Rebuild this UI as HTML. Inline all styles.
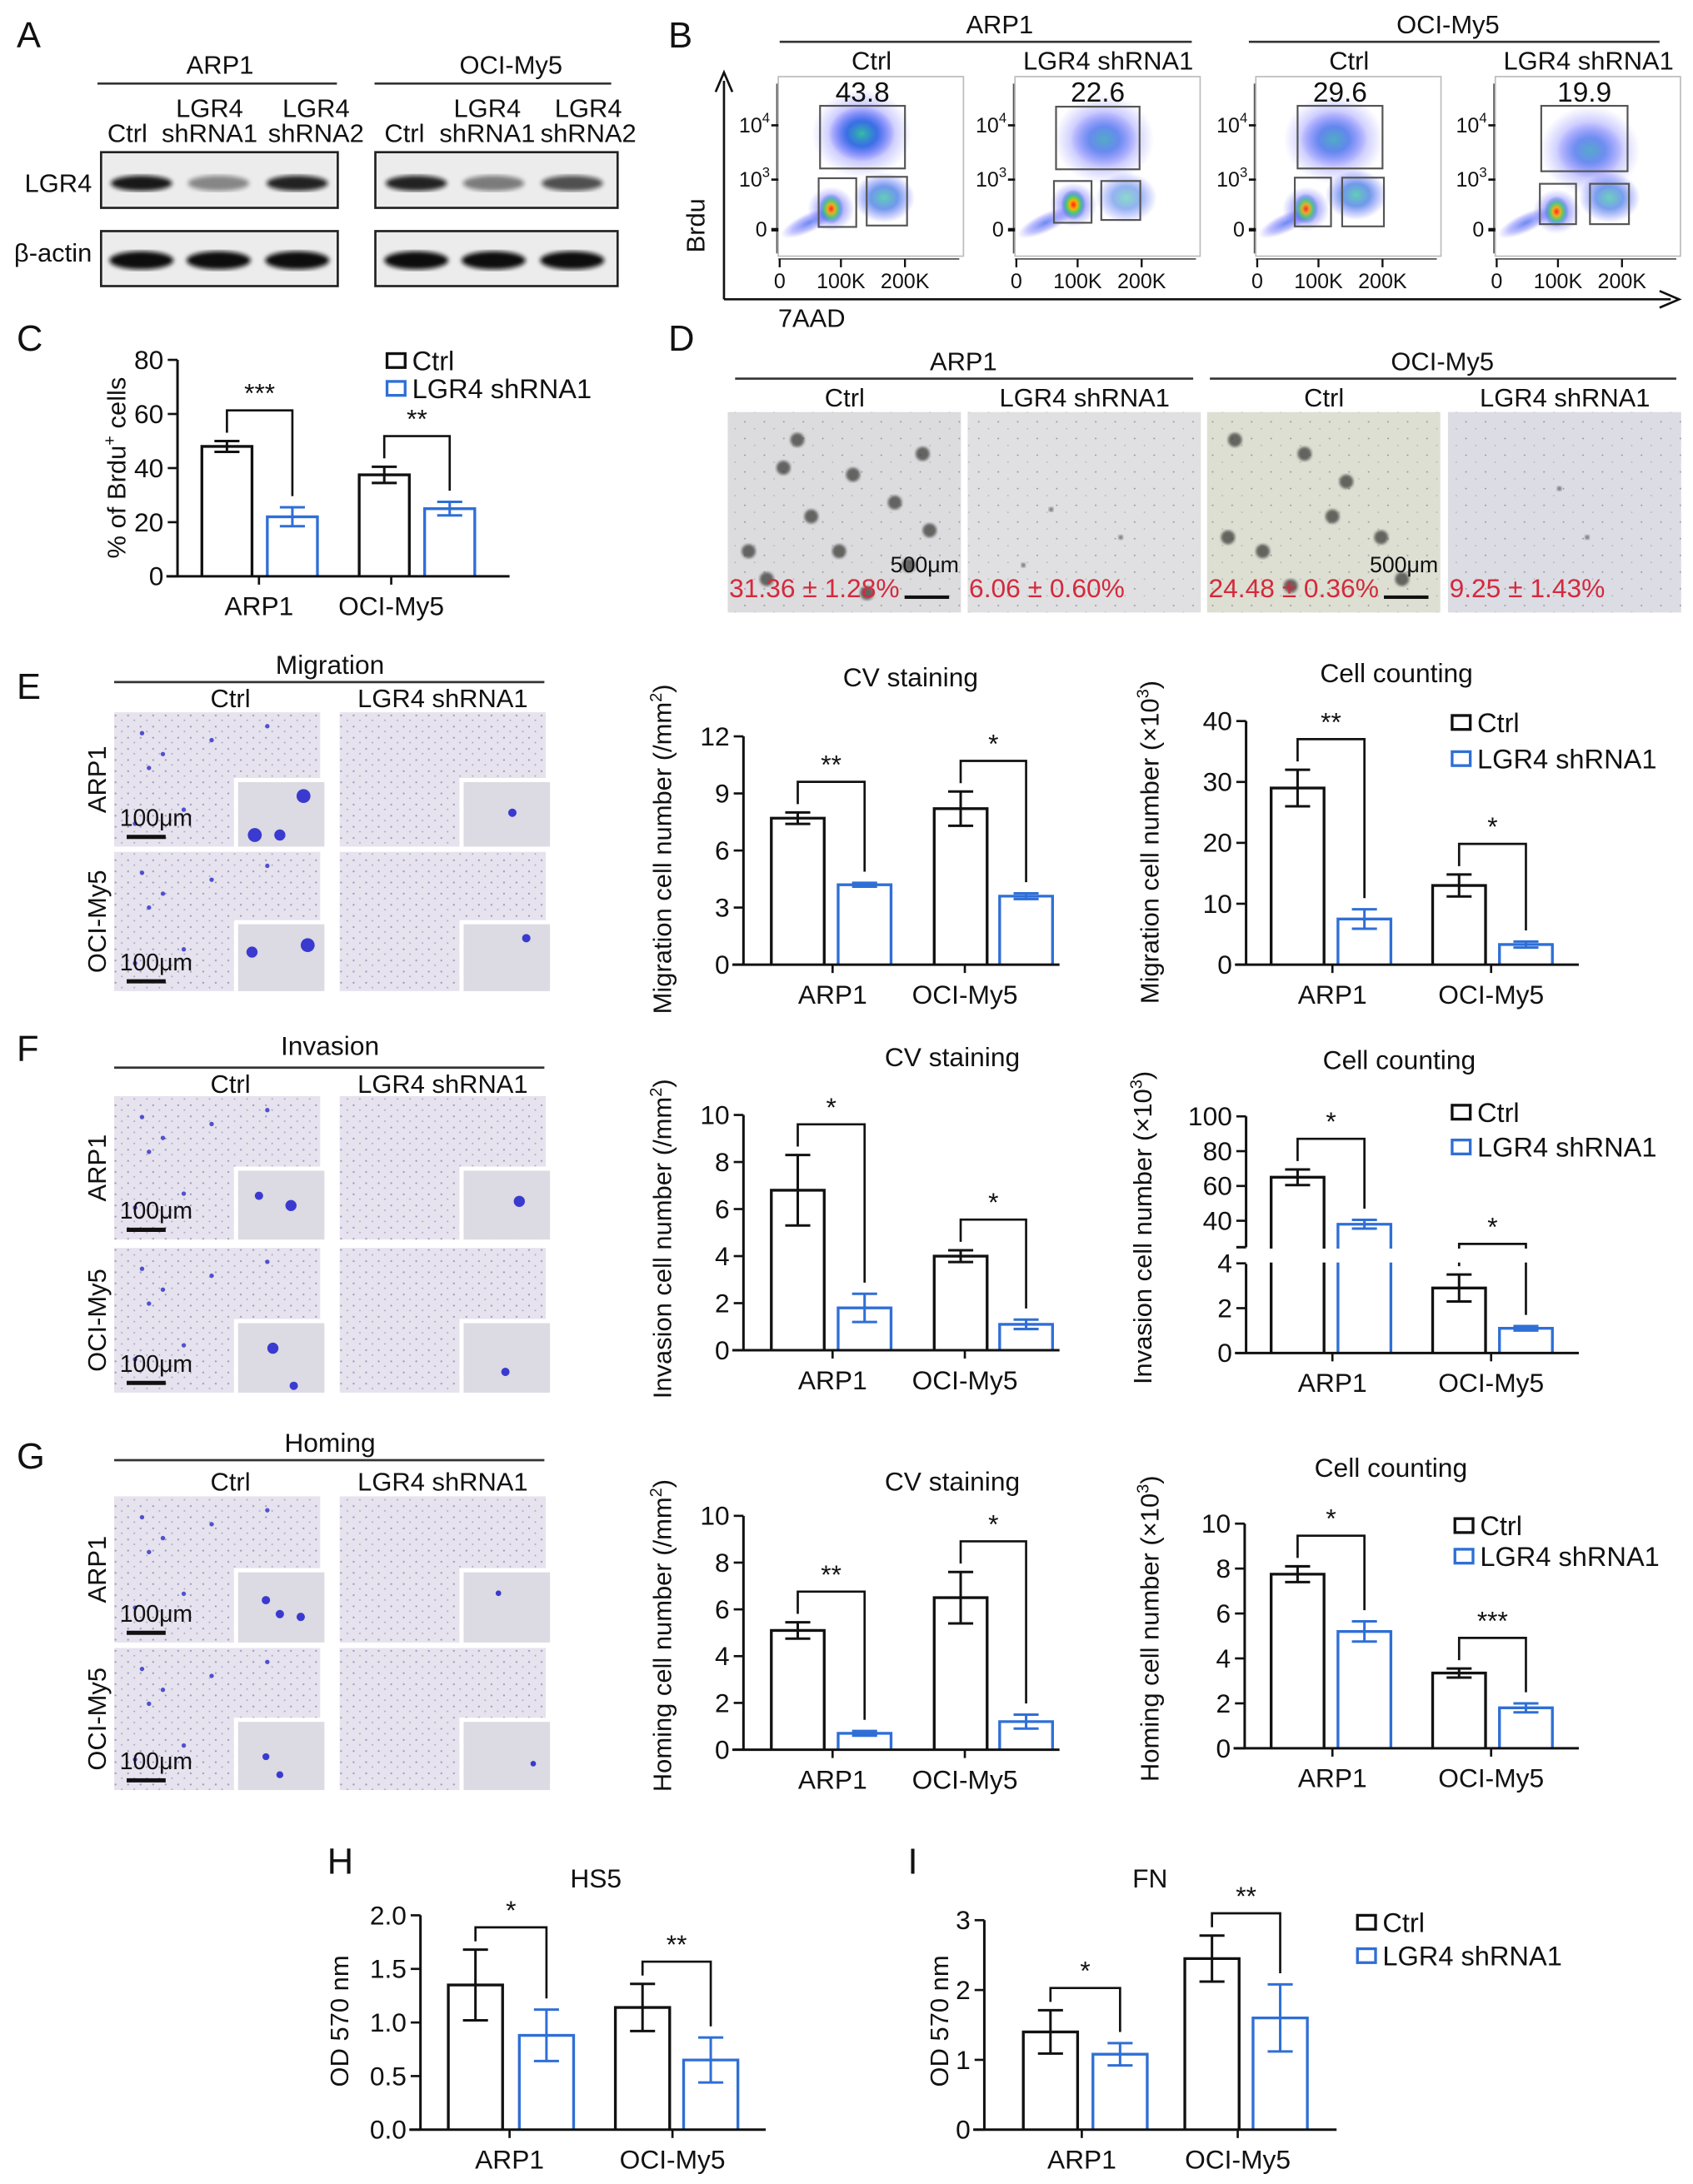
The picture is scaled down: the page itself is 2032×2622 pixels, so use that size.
<!DOCTYPE html>
<html><head><meta charset="utf-8"><title>LGR4 figure</title>
<style>
html,body{margin:0;padding:0;background:#fff;}
svg{display:block;font-family:"Liberation Sans",Arial,sans-serif;}
</style></head>
<body>
<svg id="fig" xmlns="http://www.w3.org/2000/svg" width="2032" height="2622" viewBox="0 0 1216 1569">
<defs>
  <radialGradient id="gCloud" cx="50%" cy="50%" r="50%">
    <stop offset="0" stop-color="#30c0a0" stop-opacity="0.95"/>
    <stop offset="0.45" stop-color="#2060e0" stop-opacity="0.8"/>
    <stop offset="1" stop-color="#3a3aff" stop-opacity="0"/>
  </radialGradient>
  <radialGradient id="gSparse" cx="50%" cy="50%" r="50%">
    <stop offset="0" stop-color="#2a5ae8" stop-opacity="0.7"/>
    <stop offset="0.6" stop-color="#4a4aff" stop-opacity="0.35"/>
    <stop offset="1" stop-color="#6060ff" stop-opacity="0"/>
  </radialGradient>
  <radialGradient id="gHot" cx="50%" cy="50%" r="50%">
    <stop offset="0" stop-color="#ff2020"/>
    <stop offset="0.3" stop-color="#ffb000"/>
    <stop offset="0.55" stop-color="#40d060" stop-opacity="0.9"/>
    <stop offset="1" stop-color="#2040ff" stop-opacity="0"/>
  </radialGradient>
  <pattern id="speck" width="9" height="8" patternUnits="userSpaceOnUse">
    <circle cx="2" cy="2" r="0.7" fill="#8a88b0"/><circle cx="6.5" cy="5.5" r="0.6" fill="#9a98c0"/>
  </pattern>
  <pattern id="speckD" width="14" height="12" patternUnits="userSpaceOnUse">
    <circle cx="3" cy="3" r="0.6" fill="#999"/><circle cx="10" cy="8" r="0.5" fill="#aaa"/>
  </pattern>
  <filter id="blur1"><feGaussianBlur stdDeviation="1.6"/></filter>
  <filter id="blur2"><feGaussianBlur stdDeviation="1"/></filter>
</defs>
</svg>
<script>
// ---------------- chart data ----------------
const cats = ['ARP1', 'OCI-My5'];
const cCtrl = [48, 37.5];   const cCtrlErr = [2, 3];
const cSh = [22, 25];       const cShErr = [3.5, 2.5];
const cStars = ['***', '**']; const cTicks = [0, 20, 40, 60, 80];

const eCvCtrl = [7.7, 8.2];  const eCvCtrlErr = [0.3, 0.9];
const eCvSh = [4.2, 3.6];    const eCvShErr = [0.1, 0.15];
const eCvStars = ['**', '*']; const eCvTicks = [0, 3, 6, 9, 12];

const eCcCtrl = [29, 13];    const eCcCtrlErr = [3, 1.8];
const eCcSh = [7.5, 3.3];    const eCcShErr = [1.6, 0.5];
const eCcStars = ['**', '*']; const eCcTicks = [0, 10, 20, 30, 40];

const fCvCtrl = [6.8, 4.0];  const fCvCtrlErr = [1.5, 0.25];
const fCvSh = [1.8, 1.1];    const fCvShErr = [0.6, 0.2];
const fCvStars = ['*', '*']; const fCvTicks = [0, 2, 4, 6, 8, 10];

const fCcCtrl = [65, 2.9];   const fCcCtrlErr = [4.5, 0.6];
const fCcSh = [38, 1.1];     const fCcShErr = [2.5, 0.1];
const fCcStars = ['*', '*']; const fCcTicks = [0, 2, 4, 40, 60, 80, 100];

const gCvCtrl = [5.1, 6.5];  const gCvCtrlErr = [0.35, 1.1];
const gCvSh = [0.7, 1.2];    const gCvShErr = [0.1, 0.3];
const gCvStars = ['**', '*']; const gCvTicks = [0, 2, 4, 6, 8, 10];

const gCcCtrl = [7.75, 3.35]; const gCcCtrlErr = [0.35, 0.2];
const gCcSh = [5.2, 1.8];     const gCcShErr = [0.45, 0.2];
const gCcStars = ['*', '***']; const gCcTicks = [0, 2, 4, 6, 8, 10];

const hCtrl = [1.35, 1.14];  const hCtrlErr = [0.33, 0.22];
const hSh = [0.88, 0.65];    const hShErr = [0.24, 0.21];
const hStars = ['*', '**'];  const hTicks = [0, 0.5, 1.0, 1.5, 2.0];

const iCtrl = [1.4, 2.45];   const iCtrlErr = [0.31, 0.33];
const iSh = [1.08, 1.6];     const iShErr = [0.16, 0.48];
const iStars = ['*', '**'];  const iTicks = [0, 1, 2, 3];

const flowPct = ['43.8', '22.6', '29.6', '19.9'];
const colonyPct = ['31.36 ± 1.28%', '6.06 ± 0.60%', '24.48 ± 0.36%', '9.25 ± 1.43%'];

// ---------------- helpers ----------------
const NS = 'http://www.w3.org/2000/svg';
const svg = document.getElementById('fig');
const BLUE = '#2f6fd6';
function mk(tag, attrs, name, parent) {
  const e = document.createElementNS(NS, tag);
  for (const k in attrs) e.setAttribute(k, attrs[k]);
  
  
  (parent || svg).appendChild(e);
  return e;
}
function txt(x, y, s, size, anchor, name, parent, extra) {
  const a = {x: x, y: y, 'font-size': size, 'text-anchor': anchor || 'middle', fill: '#111'};
  if (extra) for (const k in extra) a[k] = extra[k];
  const t = mk('text', a, name, parent);
  t.textContent = s;
  return t;
}
function line(x1, y1, x2, y2, w, name, parent, col) {
  return mk('line', {x1: x1, y1: y1, x2: x2, y2: y2, stroke: col || '#111', 'stroke-width': w || 1.6}, name, parent);
}
function rotText(x, y, html, size, name, parent) {
  const t = mk('text', {x: 0, y: 0, 'font-size': size, 'text-anchor': 'middle', fill: '#111',
    transform: 'translate(' + x + ',' + y + ') rotate(-90)'}, name, parent);
  t.innerHTML = html;
  return t;
}

// ---------------- bar chart ----------------
function barChart(c) {
  const g = mk('g', {}, c.name);
  const y = c.yfn || (v => c.y0 - v / c.vmax * (c.y0 - c.yTop));
  if (c.title) txt(c.titleX, c.titleY, c.title, 19, 'middle', 'chart-title', g);
  rotText(c.ytx, c.yty, c.ytitle, 18.5, 'y-axis-title', g);
  for (let i = 0; i < cats.length; i++) {
    const xs = [c.bx[2 * i], c.bx[2 * i + 1]];
    const vals = [c.ctrl[i], c.sh[i]];
    const errs = [c.ctrlErr[i], c.shErr[i]];
    const cols = ['#111', BLUE];
    for (let k = 0; k < 2; k++) {
      const x = xs[k], v = vals[k], col = cols[k];
      mk('path', {d: 'M' + x + ',' + c.y0 + 'V' + y(v) + 'H' + (x + c.bw) + 'V' + c.y0,
        fill: 'none', stroke: col, 'stroke-width': 2}, (k ? 'bar-shrna1-' : 'bar-ctrl-') + cats[i].toLowerCase(), g);
      const cx = x + c.bw / 2;
      line(cx, y(v + errs[k]), cx, y(v - errs[k]), 1.8, 'error-bar', g, col);
      line(cx - 9, y(v + errs[k]), cx + 9, y(v + errs[k]), 1.8, 'error-cap-top', g, col);
      line(cx - 9, y(v - errs[k]), cx + 9, y(v - errs[k]), 1.8, 'error-cap-bottom', g, col);
    }
    const lx = xs[0] + c.bw / 2, rx = xs[1] + c.bw / 2;
    const ly = y(vals[0] + errs[0]) - 6, ry = y(vals[1] + errs[1]) - 8;
    const by = Math.min(ly, ry) - (c.brGap || 16);
    mk('path', {d: 'M' + lx + ',' + ly + 'V' + by + 'H' + rx + 'V' + ry, fill: 'none', stroke: '#111', 'stroke-width': 1.6}, 'significance-bracket', g);
    txt((lx + rx) / 2, by - 6, c.stars[i], 19, 'middle', 'significance-stars', g);
    txt(c.gx[i], c.y0 + 28, cats[i], 19, 'middle', 'x-category-label', g);
    line(c.gx[i], c.y0, c.gx[i], c.y0 + 6, 1.6, 'x-tick', g);
  }
  if (c.broken) {
    line(c.ax, c.y0, c.ax, c.brLow, 1.8, 'y-axis-lower', g);
    line(c.ax, c.brHigh, c.ax, c.yTop, 1.8, 'y-axis-upper', g);
    line(c.ax - 7, c.brHigh, c.ax, c.brHigh, 1.8, 'axis-break-tick', g);
    mk('rect', {x: c.ax + 4, y: c.brHigh + 1, width: c.baseEnd - c.ax, height: c.brLow - c.brHigh - 2, fill: '#fff'}, 'axis-break-gap', g);
  } else {
    line(c.ax, c.y0, c.ax, c.yTop, 1.8, 'y-axis', g);
  }
  line(c.ax - 8, c.y0, c.baseEnd, c.y0, 1.8, 'x-axis', g);
  for (let t = 0; t < c.ticks.length; t++) {
    const v = c.ticks[t];
    line(c.ax - 7, y(v), c.ax, y(v), 1.6, 'y-tick', g);
    txt(c.ax - 10, y(v) + 6.5, c.fmt ? c.fmt(v) : String(v), 19, 'end', 'y-tick-label', g);
  }
  if (c.legX) legend(c.legX, c.legY, c.legDy || 25);
  return g;
}
function legend(x, y, dy) {
  const g = mk('g', {}, 'legend');
  mk('rect', {x: x, y: y - 5, width: 13, height: 10, fill: 'none', stroke: '#111', 'stroke-width': 2}, 'legend-swatch-ctrl', g);
  txt(x + 18, y + 7, 'Ctrl', 19.5, 'start', 'legend-label-ctrl', g);
  mk('rect', {x: x, y: y + dy - 5, width: 13, height: 10, fill: 'none', stroke: BLUE, 'stroke-width': 2}, 'legend-swatch-shrna1', g);
  txt(x + 18, y + dy + 7, 'LGR4 shRNA1', 19.5, 'start', 'legend-label-shrna1', g);
}

// ---------------- panel letters ----------------
[['A', 12, 34], ['B', 480, 34], ['C', 12, 252], ['D', 480, 252], ['E', 12, 502], ['F', 12, 762], ['G', 12, 1055], ['H', 235, 1346], ['I', 652, 1346]]
  .forEach(p => { txt(p[1], p[2], p[0], 26, 'start', 'panel-letter-' + p[0].toLowerCase()); });

// ---------------- Panel A: western blot ----------------
(function () {
  const g = mk('g', {}, 'western-blot');
  txt(158, 53, 'ARP1', 18.5, 'middle', 'blot-header-arp1', g);
  txt(367, 53, 'OCI-My5', 18.5, 'middle', 'blot-header-oci-my5', g);
  line(70, 60, 242, 60, 1.6, 'header-line', g, '#333');
  line(269, 60, 439, 60, 1.6, 'header-line', g, '#333');
  const lanes = [[91.5, 'Ctrl', ''], [150.5, 'shRNA1', 'LGR4'], [227, 'shRNA2', 'LGR4'], [290.5, 'Ctrl', ''], [350, 'shRNA1', 'LGR4'], [422.6, 'shRNA2', 'LGR4']];
  lanes.forEach(l => {
    if (l[2]) txt(l[0], 84, l[2], 18.5, 'middle', 'lane-label', g);
    txt(l[0], 102, l[1], 18.5, 'middle', 'lane-label', g);
  });
  txt(66, 138, 'LGR4', 18.5, 'end', 'row-label-lgr4', g);
  txt(66, 188, 'β-actin', 18.5, 'end', 'row-label-beta-actin', g);
  const boxes = [[72.6, 109.3, 170, 40], [269.6, 109.3, 174, 40], [72.6, 166, 170, 39.5], [269.6, 166, 174, 39.5]];
  boxes.forEach(b => mk('rect', {x: b[0], y: b[1], width: b[2], height: b[3], fill: '#ececec', stroke: '#222', 'stroke-width': 1.6}, 'blot-frame', g));
  const lgr = [[101.6, 0.95], [157, 0.45], [213.5, 0.9], [299, 0.9], [354.5, 0.5], [411, 0.7]];
  lgr.forEach(b => mk('ellipse', {cx: b[0], cy: 131.6, rx: 22, ry: 5.5, fill: '#111', opacity: b[1], filter: 'url(#blur1)'}, 'lgr4-band', g));
  [101.6, 157, 213.5, 299, 354.5, 411].forEach(x => mk('ellipse', {cx: x, cy: 187, rx: 23, ry: 6.5, fill: '#0c0c0c', filter: 'url(#blur1)'}, 'actin-band', g));
})();

// ---------------- Panel B: flow cytometry ----------------
(function () {
  const g = mk('g', {}, 'flow-cytometry');
  txt(718, 24, 'ARP1', 18.5, 'middle', 'flow-header-arp1', g);
  txt(1040, 24, 'OCI-My5', 18.5, 'middle', 'flow-header-oci-my5', g);
  line(560, 30, 856, 30, 1.6, 'header-line', g, '#333');
  line(897, 30, 1192, 30, 1.6, 'header-line', g, '#333');
  line(520, 215, 520, 58, 1.6, 'brdu-axis', g);
  mk('path', {d: 'M514,66 L520,52 L526,66', fill: 'none', stroke: '#111', 'stroke-width': 1.6}, 'brdu-arrow', g);
  line(520, 215, 1200, 215, 1.6, '7aad-axis', g);
  mk('path', {d: 'M1192,209 L1206,215 L1192,221', fill: 'none', stroke: '#111', 'stroke-width': 1.6}, '7aad-arrow', g);
  rotText(506, 162, 'Brdu', 18.5, 'brdu-axis-title', g);
  txt(583, 235, '7AAD', 18.5, 'middle', '7aad-axis-title', g);
  const px = [559, 729, 902, 1074];
  const heads = ['Ctrl', 'LGR4 shRNA1', 'Ctrl', 'LGR4 shRNA1'];
  const hot = [[38, 150, 0.9], [42, 147, 1], [36, 150, 0.85], [44, 152, 0.9]];
  const up = [[60, 96, 1], [64, 100, 0.55], [56, 100, 0.6], [68, 108, 0.5]];
  const lr = [[76, 142, 0.8], [80, 142, 0.6], [72, 140, 0.8], [82, 142, 0.75]];
  const gates = [
    [[30, 76, 61, 45], [29, 128, 27, 35], [63.5, 127, 29, 35]],
    [[29.5, 76.6, 60, 45], [28, 130, 27, 30], [62, 130, 28, 28]],
    [[30, 76, 61, 45], [28, 127.6, 26, 35], [62, 127.6, 30, 35]],
    [[33, 76, 62, 47], [32, 132, 26, 29], [68, 132, 28, 29]]];
  for (let i = 0; i < 4; i++) {
    const x0 = px[i];
    const pg = mk('g', {}, 'flow-plot-' + (i + 1), g);
    txt(x0 + 67, 50, heads[i], 18.5, 'middle', 'flow-plot-title', pg);
    mk('rect', {x: x0, y: 55, width: 133, height: 129, fill: '#fff', stroke: '#bbb', 'stroke-width': 1}, 'plot-frame', pg);
    mk('ellipse', {cx: x0 + up[i][0], cy: up[i][1], rx: 36, ry: 32, fill: 'url(#gSparse)', opacity: 0.9}, 'population-s-phase', pg);
    mk('ellipse', {cx: x0 + up[i][0], cy: up[i][1], rx: 24, ry: 20, fill: 'url(#gCloud)', opacity: up[i][2]}, 'population-s-phase-core', pg);
    mk('ellipse', {cx: x0 + 22, cy: 160, rx: 22, ry: 7, fill: 'url(#gSparse)', transform: 'rotate(-25 ' + (x0 + 22) + ' 160)'}, 'population-tail', pg);
    mk('ellipse', {cx: x0 + lr[i][0], cy: lr[i][1], rx: 22, ry: 18, fill: 'url(#gCloud)', opacity: lr[i][2]}, 'population-g2', pg);
    mk('ellipse', {cx: x0 + hot[i][0], cy: hot[i][1], rx: 17, ry: 16, fill: 'url(#gSparse)'}, 'population-g1-halo', pg);
    mk('ellipse', {cx: x0 + hot[i][0], cy: hot[i][1], rx: 9, ry: 11, fill: 'url(#gHot)', opacity: hot[i][2]}, 'population-g1', pg);
    gates[i].forEach(b => mk('rect', {x: x0 + b[0], y: b[1], width: b[2], height: b[3], fill: 'none', stroke: '#555', 'stroke-width': 1.3}, 'gate', pg));
    txt(x0 + gates[i][0][0] + gates[i][0][2] / 2, 73, flowPct[i], 20, 'middle', 'gate-percentage', pg);
    line(x0 - 1, 60, x0 - 1, 182, 1, 'y-axis', pg, '#555');
    line(x0, 186, x0 + 130, 186, 1, 'x-axis', pg, '#555');
    [[90, '10', '4'], [129, '10', '3']].forEach(t => {
      const tt = mk('text', {x: x0 - 6, y: t[0] + 5, 'font-size': 15, 'text-anchor': 'end', fill: '#111'}, 'y-tick-label', pg);
      tt.innerHTML = t[1] + '<tspan font-size="10" dy="-7">' + t[2] + '</tspan>';
      line(x0 - 5, t[0], x0, t[0], 1.6, 'y-tick', pg);
    });
    txt(x0 - 8, 170, '0', 15, 'end', 'y-tick-label', pg);
    line(x0 - 5, 165, x0, 165, 2.5, 'y-tick', pg);
    [[1, '0'], [45, '100K'], [91, '200K']].forEach(t => {
      txt(x0 + t[0], 207, t[1], 15, 'middle', 'x-tick-label', pg);
      line(x0 + t[0], 186, x0 + t[0], 192, 1.4, 'x-tick', pg);
    });
  }
})();

// ---------------- Panel C ----------------
barChart({name: 'chart-c-brdu', ctrl: cCtrl, ctrlErr: cCtrlErr, sh: cSh, shErr: cShErr, stars: cStars, ticks: cTicks,
  ax: 127.5, y0: 414, yTop: 258.5, vmax: 80, bx: [145, 192, 258, 305], bw: 36, gx: [186, 281], baseEnd: 366,
  ytx: 90, yty: 336, ytitle: '% of Brdu<tspan font-size="12" dy="-7">+</tspan><tspan dy="7"> cells</tspan>',
  legX: 278, legY: 259, legDy: 20});

// ---------------- Panel D: colony images ----------------
(function () {
  const g = mk('g', {}, 'colony-images');
  txt(692, 266, 'ARP1', 18.5, 'middle', 'colony-header-arp1', g);
  txt(1036, 266, 'OCI-My5', 18.5, 'middle', 'colony-header-oci-my5', g);
  line(528, 272, 857, 272, 1.6, 'header-line', g, '#333');
  line(869, 272, 1204, 272, 1.6, 'header-line', g, '#333');
  const xs = [522.7, 695, 867, 1040];
  const fills = ['#dcdcdf', '#e0e0e2', '#dcdfd2', '#dcdce4'];
  const heads = ['Ctrl', 'LGR4 shRNA1', 'Ctrl', 'LGR4 shRNA1'];
  const blobs = [
    [[40, 40], [60, 75], [28, 120], [80, 100], [120, 65], [140, 30], [100, 130], [50, 20], [145, 85], [90, 45], [15, 100], [130, 110]],
    [[60, 70], [110, 90], [40, 110]],
    [[20, 20], [70, 30], [100, 50], [125, 90], [40, 100], [60, 125], [140, 120], [15, 90], [90, 75]],
    [[100, 90], [80, 55]]];
  for (let i = 0; i < 4; i++) {
    const ig = mk('g', {}, 'colony-image-' + (i + 1), g);
    txt(xs[i] + 84, 292, heads[i], 18.5, 'middle', 'colony-image-title', ig);
    mk('rect', {x: xs[i], y: 296, width: 167.5, height: 144, fill: fills[i]}, 'image-background', ig);
    mk('rect', {x: xs[i], y: 296, width: 167.5, height: 144, fill: 'url(#speckD)'}, 'image-texture', ig);
    blobs[i].forEach(b => mk('circle', {cx: xs[i] + b[0], cy: 296 + b[1], r: (i % 2 ? 1.6 : 5), fill: '#3a3a38', opacity: 0.75, filter: 'url(#blur2)'}, 'colony', ig));
    txt(xs[i] + 1, 429, colonyPct[i], 19, 'start', 'colony-percentage', ig, {fill: '#d42a3c'});
    if (i % 2 === 0) {
      txt(xs[i] + 166, 411, '500μm', 16, 'end', 'scale-bar-label', ig);
      line(xs[i] + 127, 429, xs[i] + 159, 429, 2.5, 'scale-bar', ig);
    }
  }
})();

// ---------------- Microscopy panels E/F/G ----------------
function microPanel(name, head, hy, ly, sy, r1, r2, insetCells) {
  const g = mk('g', {}, name);
  txt(237, hy, head, 19, 'middle', 'panel-header', g);
  line(82, ly, 391, ly, 1.6, 'header-line', g, '#333');
  txt(165.5, sy, 'Ctrl', 18.5, 'middle', 'column-label-ctrl', g);
  txt(318, sy, 'LGR4 shRNA1', 18.5, 'middle', 'column-label-shrna1', g);
  const rows = [r1, r2];
  const rl = ['ARP1', 'OCI-My5'];
  for (let r = 0; r < 2; r++) {
    const y0 = rows[r][0], h = rows[r][1];
    rotText(76, y0 + h / 2, rl[r], 18.5, 'row-label', g);
    [82, 244].forEach((x0, c) => {
      const ig = mk('g', {}, 'micrograph', g);
      mk('rect', {x: x0, y: y0, width: 148, height: h, fill: '#e6e2ee'}, 'micrograph-background', ig);
      mk('rect', {x: x0, y: y0, width: 148, height: h, fill: 'url(#speck)', opacity: 0.8}, 'micrograph-texture', ig);
      const ih = h * 0.48;
      mk('rect', {x: x0 + 86, y: y0 + h - ih - 3, width: 65, height: ih + 3, fill: '#fff'}, 'inset-border', ig);
      mk('rect', {x: x0 + 89, y: y0 + h - ih, width: 62, height: ih, fill: '#dcdae2'}, 'inset-image', ig);
      const cells = insetCells[r][c];
      cells.forEach(p => mk('circle', {cx: x0 + 89 + p[0], cy: y0 + h - ih + p[1], r: p[2], fill: '#3a3ad0'}, 'stained-cell', ig));
      if (c === 0) {
        [[20, 15], [35, 30], [25, 40], [70, 20], [50, 70], [15, 80], [110, 10]].forEach(p => mk('circle', {cx: x0 + p[0], cy: y0 + p[1], r: 1.6, fill: '#5050d0'}, 'stained-cell', ig));
        txt(x0 + 4, y0 + h - 15, '100μm', 17, 'start', 'scale-bar-label', ig);
        line(x0 + 9, y0 + h - 7, x0 + 37, y0 + h - 7, 3, 'scale-bar', ig);
      }
    });
  }
  return g;
}
microPanel('migration-images', 'Migration', 484, 490, 508, [511.7, 96.5], [612, 100],
  [[[[12, 38, 5], [47, 10, 5], [30, 38, 4]], [[35, 22, 3]]], [[[10, 20, 4], [50, 15, 5]], [[45, 10, 3]]]]);
microPanel('invasion-images', 'Invasion', 758, 767, 785, [787.5, 103], [896.5, 104],
  [[[[15, 18, 3], [38, 25, 4]], [[40, 22, 4]]], [[[25, 18, 4], [40, 45, 3]], [[30, 35, 3]]]]);
microPanel('homing-images', 'Homing', 1043, 1049, 1071, [1075, 105], [1184, 102],
  [[[[20, 20, 3], [30, 30, 3], [45, 32, 3]], [[25, 15, 2]]], [[[20, 25, 2.5], [30, 38, 2.5]], [[50, 30, 2]]]]);

// ---------------- CV staining charts ----------------
const cvBx = [554, 602, 671, 718];
barChart({name: 'chart-e-cv-staining', ctrl: eCvCtrl, ctrlErr: eCvCtrlErr, sh: eCvSh, shErr: eCvShErr, stars: eCvStars, ticks: eCvTicks,
  ax: 534, y0: 693, yTop: 529, vmax: 12, bx: cvBx, bw: 38, gx: [598, 693], baseEnd: 761,
  title: 'CV staining', titleX: 654, titleY: 493, ytx: 482, yty: 610,
  ytitle: 'Migration cell number (/mm<tspan font-size="12" dy="-7">2</tspan><tspan dy="7">)</tspan>'});
barChart({name: 'chart-f-cv-staining', ctrl: fCvCtrl, ctrlErr: fCvCtrlErr, sh: fCvSh, shErr: fCvShErr, stars: fCvStars, ticks: fCvTicks,
  ax: 534, y0: 970, yTop: 801, vmax: 10, bx: cvBx, bw: 38, gx: [598, 693], baseEnd: 761,
  title: 'CV staining', titleX: 684, titleY: 766, ytx: 482, yty: 890,
  ytitle: 'Invasion cell number (/mm<tspan font-size="12" dy="-7">2</tspan><tspan dy="7">)</tspan>'});
barChart({name: 'chart-g-cv-staining', ctrl: gCvCtrl, ctrlErr: gCvCtrlErr, sh: gCvSh, shErr: gCvShErr, stars: gCvStars, ticks: gCvTicks,
  ax: 534, y0: 1257, yTop: 1089, vmax: 10, bx: cvBx, bw: 38, gx: [598, 693], baseEnd: 761,
  title: 'CV staining', titleX: 684, titleY: 1071, ytx: 482, yty: 1175,
  ytitle: 'Homing cell number (/mm<tspan font-size="12" dy="-7">2</tspan><tspan dy="7">)</tspan>'});

// ---------------- Cell counting charts ----------------
const ccBx = [913, 961, 1029, 1077];
barChart({name: 'chart-e-cell-counting', ctrl: eCcCtrl, ctrlErr: eCcCtrlErr, sh: eCcSh, shErr: eCcShErr, stars: eCcStars, ticks: eCcTicks,
  ax: 895, y0: 693, yTop: 518, vmax: 40, bx: ccBx, bw: 38, gx: [957, 1071], baseEnd: 1134,
  title: 'Cell counting', titleX: 1003, titleY: 490, ytx: 832, yty: 605,
  ytitle: 'Migration cell number (×10<tspan font-size="12" dy="-7">3</tspan><tspan dy="7">)</tspan>',
  legX: 1043, legY: 519, legDy: 26});
barChart({name: 'chart-f-cell-counting', ctrl: fCcCtrl, ctrlErr: fCcCtrlErr, sh: fCcSh, shErr: fCcShErr, stars: fCcStars, ticks: fCcTicks,
  ax: 895, y0: 972, yTop: 802, bx: ccBx, bw: 38, gx: [957, 1071], baseEnd: 1134,
  yfn: v => v <= 4 ? 972 - v * 16.1 : 877 - (v - 40) * 1.25,
  broken: true, brLow: 908, brHigh: 896,
  title: 'Cell counting', titleX: 1005, titleY: 768, ytx: 827, yty: 882,
  ytitle: 'Invasion cell number (×10<tspan font-size="12" dy="-7">3</tspan><tspan dy="7">)</tspan>',
  legX: 1043, legY: 799, legDy: 25});
barChart({name: 'chart-g-cell-counting', ctrl: gCcCtrl, ctrlErr: gCcCtrlErr, sh: gCcSh, shErr: gCcShErr, stars: gCcStars, ticks: gCcTicks,
  ax: 894, y0: 1256, yTop: 1094.6, vmax: 10, bx: ccBx, bw: 38, gx: [957, 1071], baseEnd: 1134,
  title: 'Cell counting', titleX: 999, titleY: 1061, ytx: 832, yty: 1170,
  ytitle: 'Homing cell number (×10<tspan font-size="12" dy="-7">3</tspan><tspan dy="7">)</tspan>',
  legX: 1045, legY: 1096, legDy: 22});

// ---------------- H / I ----------------
barChart({name: 'chart-h-hs5', ctrl: hCtrl, ctrlErr: hCtrlErr, sh: hSh, shErr: hShErr, stars: hStars, ticks: hTicks,
  ax: 302, y0: 1530, yTop: 1376, vmax: 2, bx: [322, 373, 442, 491], bw: 39, gx: [366, 483], baseEnd: 550,
  fmt: v => v.toFixed(1), brGap: 10,
  title: 'HS5', titleX: 428, titleY: 1356, ytx: 250, yty: 1452, ytitle: 'OD 570 nm'});
barChart({name: 'chart-i-fn', ctrl: iCtrl, ctrlErr: iCtrlErr, sh: iSh, shErr: iShErr, stars: iStars, ticks: iTicks,
  ax: 707, y0: 1530, yTop: 1379.5, vmax: 3, bx: [735, 785, 851, 900], bw: 39, gx: [777, 889], baseEnd: 960, brGap: 10,
  title: 'FN', titleX: 826, titleY: 1356, ytx: 681, yty: 1452, ytitle: 'OD 570 nm',
  legX: 975, legY: 1381, legDy: 24});
</script>
</body></html>
